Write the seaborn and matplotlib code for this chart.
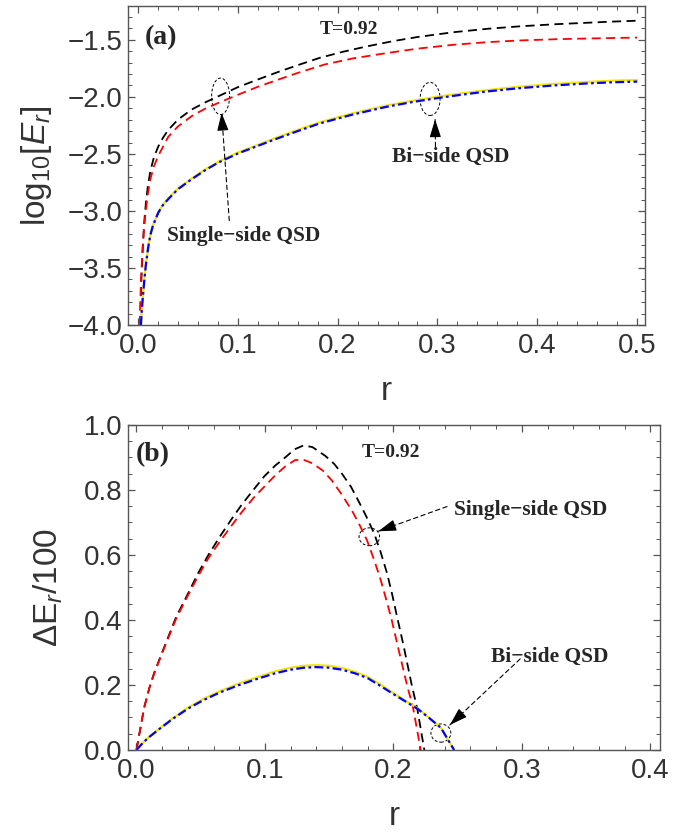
import matplotlib
matplotlib.use("Agg")
import matplotlib.pyplot as plt
from matplotlib.patches import Ellipse
from matplotlib.ticker import MultipleLocator
import numpy as np
import pandas as pd
import seaborn as sns

# ---- panel (a): log10[E_r] vs r ----
r_black_a = [0.0022, 0.0035, 0.005, 0.0065, 0.008, 0.010, 0.0125, 0.016, 0.0204, 0.025, 0.0304,
             0.040, 0.0538, 0.067, 0.0805, 0.100, 0.120, 0.140, 0.160, 0.182, 0.205, 0.230,
             0.255, 0.280, 0.316, 0.350, 0.383, 0.420, 0.450, 0.475, 0.500]
e_black_a = [-4.00, -3.60, -3.30, -3.08, -2.93, -2.78, -2.65, -2.53, -2.435, -2.36, -2.29,
             -2.20, -2.111, -2.050, -1.995, -1.915, -1.848, -1.783, -1.722, -1.658, -1.605, -1.556,
             -1.512, -1.475, -1.433, -1.403, -1.381, -1.362, -1.350, -1.340, -1.332]
r_red_a = [0.0018, 0.003, 0.0045, 0.006, 0.008, 0.010, 0.0125, 0.016, 0.0204, 0.025, 0.0304,
           0.040, 0.0538, 0.067, 0.0805, 0.100, 0.120, 0.140, 0.160, 0.187, 0.215, 0.249,
           0.280, 0.316, 0.350, 0.383, 0.420, 0.450, 0.475, 0.500]
e_red_a = [-4.00, -3.62, -3.36, -3.16, -2.99, -2.85, -2.72, -2.61, -2.515, -2.44, -2.35,
           -2.26, -2.169, -2.105, -2.053, -1.982, -1.912, -1.850, -1.790, -1.716, -1.663, -1.616,
           -1.577, -1.543, -1.520, -1.505, -1.494, -1.488, -1.484, -1.480]
r_blue_a = [0.003, 0.004, 0.005, 0.0065, 0.008, 0.0103, 0.0125, 0.015, 0.0204, 0.025, 0.0304,
            0.040, 0.0538, 0.067, 0.0805, 0.1005, 0.120, 0.137, 0.160, 0.182, 0.215, 0.249,
            0.275, 0.299, 0.325, 0.349, 0.380, 0.416, 0.450, 0.475, 0.500]
e_blue_a = [-4.00, -3.86, -3.75, -3.60, -3.47, -3.32, -3.21, -3.13, -3.015, -2.95, -2.896,
            -2.81, -2.722, -2.645, -2.576, -2.495, -2.430, -2.373, -2.300, -2.233, -2.155, -2.087,
            -2.045, -2.012, -1.980, -1.953, -1.925, -1.900, -1.882, -1.872, -1.866]
e_yellow_a = [-4.00, -3.86, -3.75, -3.60, -3.47, -3.32, -3.21, -3.128, -3.012, -2.946, -2.892,
              -2.805, -2.716, -2.638, -2.569, -2.487, -2.421, -2.364, -2.290, -2.223, -2.144, -2.076,
              -2.034, -2.000, -1.968, -1.941, -1.912, -1.887, -1.869, -1.858, -1.852]

# ---- panel (b): Delta E_r / 100 vs r ----
r_black_b = [0.000, 0.003, 0.006, 0.010, 0.0138, 0.020, 0.031, 0.040, 0.048, 0.056, 0.065,
             0.074, 0.082, 0.091, 0.0995, 0.108, 0.1167, 0.123, 0.130, 0.137, 0.147, 0.154,
             0.160, 0.167, 0.173, 0.179, 0.185, 0.190, 0.195, 0.199, 0.2026, 0.208, 0.2143,
             0.2187, 0.2241]
d_black_b = [0.000, 0.065, 0.130, 0.190, 0.237, 0.300, 0.410, 0.480, 0.544, 0.600, 0.657,
             0.710, 0.755, 0.800, 0.842, 0.875, 0.903, 0.925, 0.937, 0.932, 0.905, 0.880,
             0.850, 0.810, 0.765, 0.718, 0.667, 0.610, 0.545, 0.480, 0.415, 0.320, 0.200,
             0.125, 0.000]
r_red_b = [0.000, 0.003, 0.006, 0.010, 0.0138, 0.020, 0.031, 0.040, 0.048, 0.056, 0.065,
           0.074, 0.082, 0.091, 0.0995, 0.108, 0.116, 0.1235, 0.130, 0.137, 0.145, 0.152,
           0.160, 0.168, 0.174, 0.1794, 0.185, 0.190, 0.195, 0.1987, 0.204, 0.2109, 0.2151,
           0.2213]
d_red_b = [0.000, 0.065, 0.130, 0.190, 0.235, 0.298, 0.405, 0.475, 0.535, 0.590, 0.642,
           0.690, 0.732, 0.775, 0.810, 0.845, 0.873, 0.892, 0.893, 0.882, 0.860, 0.830,
           0.785, 0.735, 0.690, 0.646, 0.585, 0.525, 0.455, 0.400, 0.310, 0.195, 0.135,
           0.000]
r_blue_b = [0.000, 0.005, 0.010, 0.017, 0.028, 0.040, 0.052, 0.065, 0.080, 0.095, 0.108,
            0.120, 0.130, 0.140, 0.150, 0.160, 0.170, 0.180, 0.190, 0.200, 0.210, 0.219,
            0.228, 0.237, 0.2473]
d_blue_b = [0.000, 0.022, 0.040, 0.062, 0.095, 0.127, 0.153, 0.177, 0.200, 0.220, 0.236,
            0.247, 0.253, 0.255, 0.253, 0.247, 0.236, 0.221, 0.197, 0.172, 0.148, 0.126,
            0.098, 0.068, 0.000]
d_yellow_b = [0.000, 0.022, 0.041, 0.063, 0.097, 0.130, 0.157, 0.181, 0.205, 0.225, 0.242,
              0.253, 0.259, 0.261, 0.259, 0.252, 0.241, 0.225, 0.201, 0.175, 0.150, 0.128,
              0.099, 0.069, 0.000]

sns.set_style("ticks")
plt.rcParams["font.family"] = ["Liberation Sans", "DejaVu Sans"]
plt.rcParams["mathtext.fontset"] = "custom"
plt.rcParams["mathtext.rm"] = "Liberation Sans"
plt.rcParams["mathtext.it"] = "Liberation Sans:italic"

GRAY = "#333333"
SERIF = ["Liberation Serif", "DejaVu Serif"]

black_style = dict(color="black", lw=1.3, dashes=(5, 3))
red_style = dict(color="red", lw=1.3, dashes=(5, 3))
yellow_style = dict(color="#f2e600", lw=1.6)
blue_style = dict(color="blue", lw=1.6, dashes=(4, 1.5, 1.2, 1.5))


def style_axes(ax, xmaj, xmin, ymaj, ymin):
    ax.xaxis.set_major_locator(MultipleLocator(xmaj))
    ax.xaxis.set_minor_locator(MultipleLocator(xmin))
    ax.yaxis.set_major_locator(MultipleLocator(ymaj))
    ax.yaxis.set_minor_locator(MultipleLocator(ymin))
    ax.tick_params(which="both", direction="in", top=True, right=True, color="#555555")
    ax.tick_params(which="major", length=5, width=0.9)
    ax.tick_params(which="minor", length=3, width=0.7)
    ax.tick_params(axis="x", labelsize=20, labelcolor=GRAY, pad=6)
    ax.tick_params(axis="y", labelsize=20, labelcolor=GRAY, pad=4)
    for s in ax.spines.values():
        s.set_color("#555555")
        s.set_linewidth(1.0)


def draw_arrow(ax, start, tip):
    ax.annotate("", xy=tip, xytext=start,
                arrowprops=dict(arrowstyle="-", color="black", lw=0.8, ls=(0, (4, 3)),
                                shrinkA=0, shrinkB=0))
    ax.annotate("", xy=tip, xytext=(tip[0] + (start[0] - tip[0]) * 0.12,
                                    tip[1] + (start[1] - tip[1]) * 0.12),
                arrowprops=dict(arrowstyle="-|>,head_length=1.1,head_width=0.35", color="black",
                                lw=0.8, shrinkA=0, shrinkB=0))


fig = plt.figure(figsize=(6.82, 8.32), dpi=100)

# ---------------- panel (a) ----------------
ax1 = fig.add_axes([0.188, 0.6094, 0.758, 0.3834])
df_ka = pd.DataFrame({"r": r_black_a, "v": e_black_a})
df_ra = pd.DataFrame({"r": r_red_a, "v": e_red_a})
df_ya = pd.DataFrame({"r": r_blue_a, "v": e_yellow_a})
df_ba = pd.DataFrame({"r": r_blue_a, "v": e_blue_a})
sns.lineplot(data=df_ka, x="r", y="v", ax=ax1, **black_style)
sns.lineplot(data=df_ra, x="r", y="v", ax=ax1, **red_style)
sns.lineplot(data=df_ya, x="r", y="v", ax=ax1, **yellow_style)
sns.lineplot(data=df_ba, x="r", y="v", ax=ax1, **blue_style)
ax1.set_xlim(-0.0097, 0.508)
ax1.set_ylim(-4.0, -1.203)
style_axes(ax1, 0.1, 0.02, 0.5, 0.1)
ax1.set_xlabel("r", fontsize=24, color=GRAY, labelpad=12)
ax1.set_ylabel(r"$\mathrm{log}_{10}[E_r]$", fontsize=24, color=GRAY, labelpad=10)

ax1.text(0.0235, -1.477, "(a)", fontsize=20, fontweight="bold", family=SERIF, ha="center", va="center")
ax1.text(0.2115, -1.413, "T=0.92", fontsize=14, fontweight="bold", family=SERIF, ha="center", va="center")
ax1.text(0.106, -3.22, "Single\u2212side QSD", fontsize=15.5, fontweight="bold", family=SERIF,
         ha="center", va="center")
ax1.text(0.313, -2.53, "Bi\u2212side QSD", fontsize=15.5, fontweight="bold", family=SERIF,
         ha="center", va="center")
ax1.add_patch(Ellipse((0.0828, -1.995), 0.018, 0.32, fill=False, ec="black", lw=0.7, ls=(0, (3, 2))))
ax1.add_patch(Ellipse((0.2926, -2.018), 0.020, 0.29, fill=False, ec="black", lw=0.7, ls=(0, (3, 2))))
draw_arrow(ax1, (0.0915, -3.085), (0.0838, -2.14))
draw_arrow(ax1, (0.298, -2.437), (0.2976, -2.198))

# ---------------- panel (b) ----------------
ax2 = fig.add_axes([0.188, 0.0986, 0.780, 0.3906])
df_kb = pd.DataFrame({"r": r_black_b, "v": d_black_b})
df_rb = pd.DataFrame({"r": r_red_b, "v": d_red_b})
df_yb = pd.DataFrame({"r": r_blue_b, "v": d_yellow_b})
df_bb = pd.DataFrame({"r": r_blue_b, "v": d_blue_b})
sns.lineplot(data=df_kb, x="r", y="v", ax=ax2, **black_style)
sns.lineplot(data=df_rb, x="r", y="v", ax=ax2, **red_style)
sns.lineplot(data=df_yb, x="r", y="v", ax=ax2, **yellow_style)
sns.lineplot(data=df_bb, x="r", y="v", ax=ax2, **blue_style)
ax2.set_xlim(-0.0064, 0.4077)
ax2.set_ylim(0.0, 1.0)
style_axes(ax2, 0.1, 0.02, 0.2, 0.05)
ax2.set_xlabel("r", fontsize=24, color=GRAY, labelpad=12)
ax2.set_ylabel(r"$\Delta\mathrm{E}_r/100$", fontsize=24, color=GRAY, labelpad=14)

ax2.text(0.0129, 0.908, "(b)", fontsize=20, fontweight="bold", family=SERIF, ha="center", va="center")
ax2.text(0.198, 0.914, "T=0.92", fontsize=14, fontweight="bold", family=SERIF, ha="center", va="center")
ax2.text(0.3065, 0.738, "Single\u2212side QSD", fontsize=15.5, fontweight="bold", family=SERIF,
         ha="center", va="center")
ax2.text(0.322, 0.286, "Bi\u2212side QSD", fontsize=15.5, fontweight="bold", family=SERIF,
         ha="center", va="center")
ax2.add_patch(Ellipse((0.1813, 0.656), 0.016, 0.055, fill=False, ec="black", lw=0.7, ls=(0, (3, 2))))
ax2.add_patch(Ellipse((0.237, 0.052), 0.0155, 0.056, fill=False, ec="black", lw=0.7, ls=(0, (3, 2))))
draw_arrow(ax2, (0.2418, 0.749), (0.1883, 0.673))
draw_arrow(ax2, (0.2987, 0.28), (0.244, 0.077))

fig.savefig("out.png", dpi=100)
